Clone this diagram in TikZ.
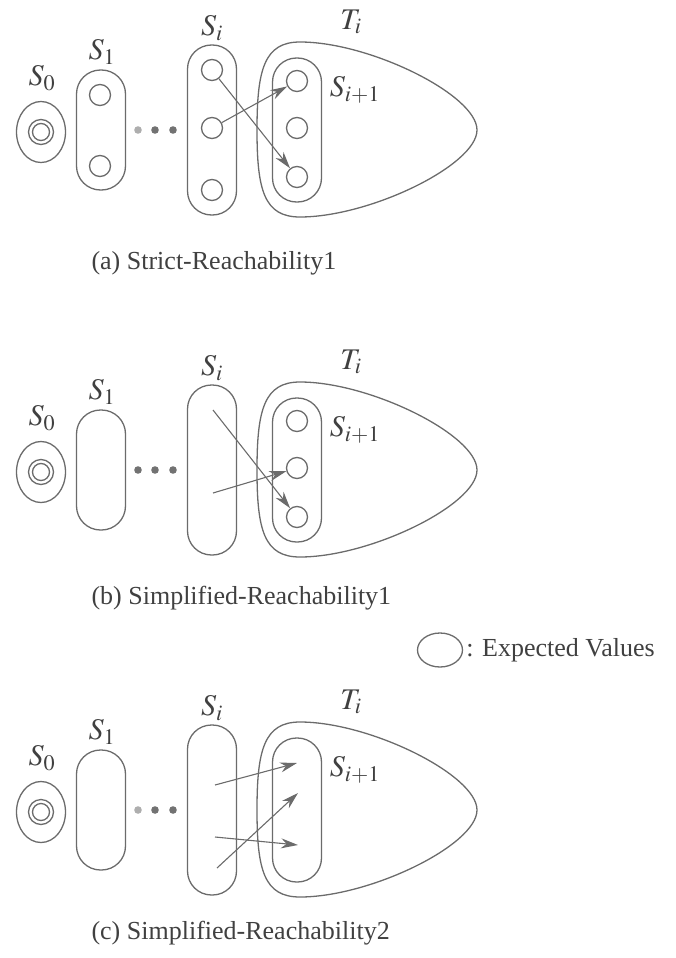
\documentclass[tikz,border=0pt]{standalone}
\usepackage{mathptmx}
\usepackage{fontspec}
\setmainfont{Liberation Serif}
\usetikzlibrary{arrows.meta,shapes.geometric}
\definecolor{linegray}{gray}{0.42}
\tikzset{
  setbox/.style={draw=linegray,line width=1.3pt,rounded corners=24pt,minimum width=49pt,inner sep=0pt},
  startset/.style={draw=linegray,line width=1.3pt,ellipse,minimum width=49pt,minimum height=61pt,inner sep=0pt},
  val/.style={draw=linegray,circle,line width=1.3pt,minimum size=21pt,inner sep=0pt},
  lab/.style={text=black!75,inner sep=1pt,font=\fontsize{30}{34}\selectfont},
  captext/.style={text=black!75,anchor=west,font=\fontsize{26}{30}\selectfont},
  reach/.style={draw=linegray,line width=1.1pt,-{Stealth[length=17pt,width=10pt]}},
  tset/.style={draw=linegray,line width=1.3pt}
}
\begin{document}
\begin{tikzpicture}[x=1pt,y=-1pt]
\useasboundingbox (0,0) rectangle (676,958);
% (a)
\begin{scope}
\node[startset] (a0) at (41,132) {};
\node[val,minimum size=25pt] (a0o) at (41,132) {};
\node[val,minimum size=17pt] (a0i) at (41,132) {};
\node[setbox,minimum height=120pt] (a1) at (101,130) {};
\foreach \y/\n in {95/1,166/2} \node[val] (a1\n) at (100,\y) {};
\foreach \x/\c in {138/55,155/95,173/95} \fill[linegray!\c!white] (\x,130) circle (3.8pt);
\node[setbox,minimum height=170pt] (ai) at (212,130) {};
\foreach \y/\n in {70/1,128/2,190/3} \node[val] (ai\n) at (212,\y) {};
\draw[tset] (300,42) .. controls (370,42) and (477,95) .. (477,130) .. controls (477,165) and (370,217) .. (300,217) .. controls (264,217) and (257,190) .. (257,130) .. controls (257,70) and (264,42) .. (300,42);
\node[setbox,minimum height=144pt] (aj) at (297,130) {};
\foreach \y/\n in {81/1,128/2,177/3} \node[val] (aj\n) at (297,\y) {};
\draw[reach] (ai1) -- (aj3);
\draw[reach] (ai2) -- (aj1);
\node[lab] (la0) at (42,78) {$S_0$};
\node[lab] (la1) at (102,52) {$S_1$};
\node[lab] (lai) at (212,28) {$S_i$};
\node[lab] (lat) at (351,22) {$T_i$};
\node[lab] (laj) at (355,90) {$S_{i+1}$};
\node[captext] (capa) at (88,263) {(a) Strict-Reachability1};
\end{scope}
% (b)
\begin{scope}[yshift=-340pt]
\node[startset] (b0) at (41,132) {};
\node[val,minimum size=25pt] (b0o) at (41,132) {};
\node[val,minimum size=17pt] (b0i) at (41,132) {};
\node[setbox,minimum height=120pt] (b1) at (101,130) {};
\foreach \x/\c in {138/95,155/95,173/95} \fill[linegray!\c!white] (\x,130) circle (3.8pt);
\node[setbox,minimum height=170pt] (bi) at (212,130) {};
\draw[tset] (300,42) .. controls (370,42) and (477,95) .. (477,130) .. controls (477,165) and (370,217) .. (300,217) .. controls (264,217) and (257,190) .. (257,130) .. controls (257,70) and (264,42) .. (300,42);
\node[setbox,minimum height=144pt] (bj) at (297,130) {};
\foreach \y/\n in {81/1,128/2,177/3} \node[val] (bj\n) at (297,\y) {};
\coordinate (bi1) at (213,70);
\coordinate (bi2) at (213,153);
\draw[reach] (bi1) -- (bj3);
\draw[reach] (bi2) -- (bj2);
\node[lab] (lb0) at (42,78) {$S_0$};
\node[lab] (lb1) at (102,52) {$S_1$};
\node[lab] (lbi) at (212,28) {$S_i$};
\node[lab] (lbt) at (351,22) {$T_i$};
\node[lab] (lbj) at (355,90) {$S_{i+1}$};
\node[captext] (capb) at (88,258) {(b) Simplified-Reachability1};
\end{scope}
% legend
\node[draw=linegray,line width=1.3pt,ellipse,minimum width=45pt,minimum height=34pt,inner sep=0pt] (key) at (440,650) {};
\node[captext,inner sep=0pt] (keytext) at ([xshift=3pt]key.east) {: Expected Values};
% (c)
\begin{scope}[yshift=-680pt]
\node[startset] (c0) at (41,132) {};
\node[val,minimum size=25pt] (c0o) at (41,132) {};
\node[val,minimum size=17pt] (c0i) at (41,132) {};
\node[setbox,minimum height=120pt] (c1) at (101,130) {};
\foreach \x/\c in {138/55,155/95,173/95} \fill[linegray!\c!white] (\x,130) circle (3.8pt);
\node[setbox,minimum height=170pt] (ci) at (212,130) {};
\draw[tset] (300,42) .. controls (370,42) and (477,95) .. (477,130) .. controls (477,165) and (370,217) .. (300,217) .. controls (264,217) and (257,190) .. (257,130) .. controls (257,70) and (264,42) .. (300,42);
\node[setbox,minimum height=144pt] (cj) at (297,130) {};
\coordinate (ci1) at (215,105);
\coordinate (ci2) at (215,157);
\coordinate (ci3) at (217,188);
\coordinate (cj1) at (297,83);
\coordinate (cj2) at (298,113);
\coordinate (cj3) at (298,165);
\draw[reach] (ci1) -- (cj1);
\draw[reach] (ci3) -- (cj2);
\draw[reach] (ci2) -- (cj3);
\node[lab] (lc0) at (42,78) {$S_0$};
\node[lab] (lc1) at (102,52) {$S_1$};
\node[lab] (lci) at (212,28) {$S_i$};
\node[lab] (lct) at (351,22) {$T_i$};
\node[lab] (lcj) at (355,90) {$S_{i+1}$};
\node[captext] (capc) at (88,253) {(c) Simplified-Reachability2};
\end{scope}
\end{tikzpicture}
\end{document}
